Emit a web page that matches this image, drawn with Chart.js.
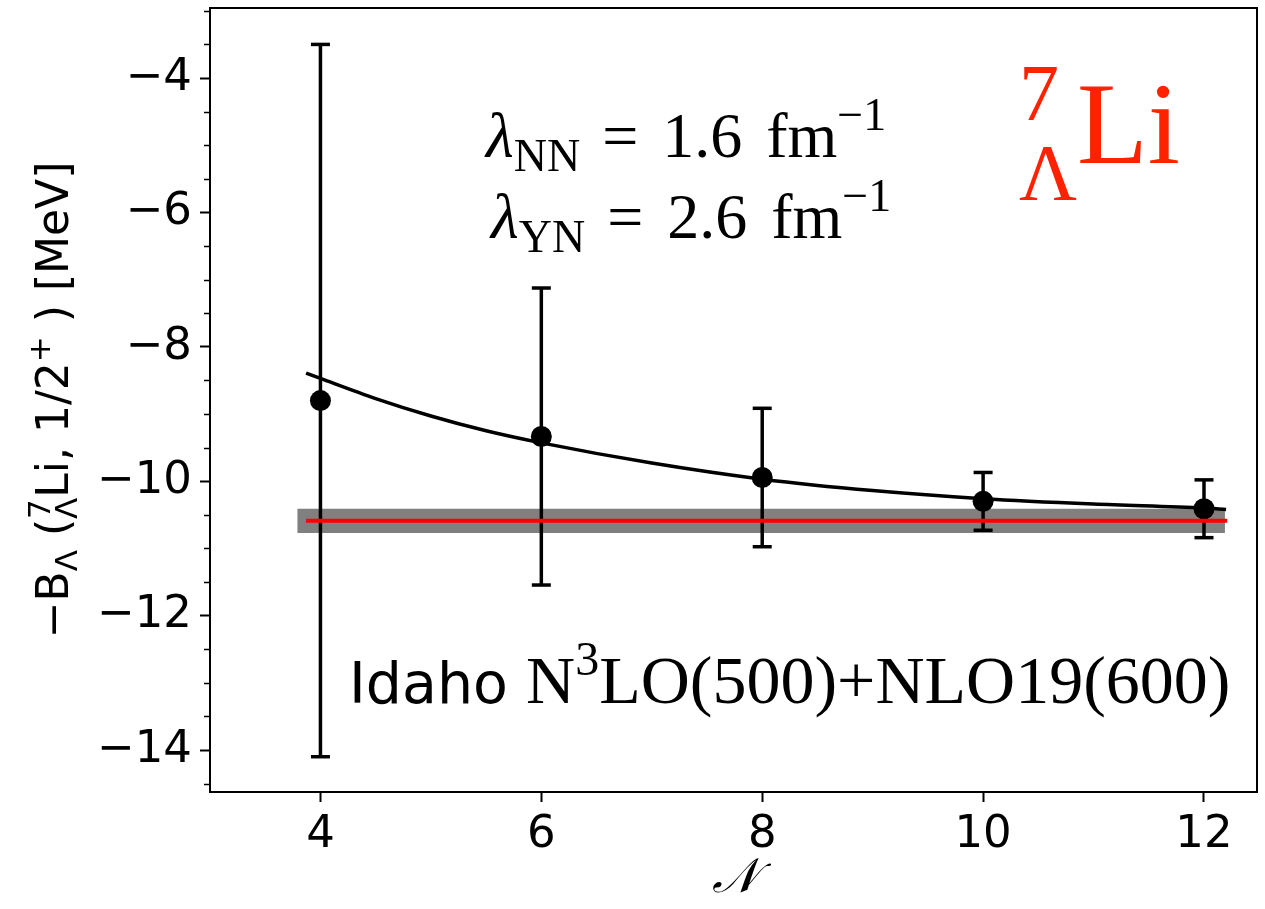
<!DOCTYPE html>
<html>
<head>
<meta charset="utf-8">
<script src="https://cdn.jsdelivr.net/npm/chart.js@4.4.0/dist/chart.umd.min.js"></script>
<style>
  html, body { margin: 0; padding: 0; background: #ffffff; }
</style>
</head>
<body>
<canvas id="grafico" width="1265" height="909"></canvas>
<script>
// pontos NCSM com barras de erro
const nMax = [4, 6, 8, 10, 12];
const energia = [-8.80, -9.335, -9.945, -10.30, -10.41];
const erro = [5.30, 2.21, 1.03, 0.43, 0.43];

// curva de extrapolação
const ajusteN = [3.87, 4, 4.5, 5, 5.5, 6, 7, 8, 9, 10, 11, 12, 12.2];
const ajusteE = [-8.39, -8.47, -8.77, -9.03, -9.25, -9.43, -9.73, -9.97, -10.14, -10.26, -10.34, -10.40, -10.42];

// valor extrapolado e sua incerteza
const energiaRef = -10.59;
const erroRef = 0.18;
const faixaRefN = [3.79, 12.19];
const linhaRefN = [3.87, 12.21];

const xTicks = [4, 6, 8, 10, 12];
const yTicks = [-14, -12, -10, -8, -6, -4];

const PRETO = '#000000';
const SANS = '"DejaVu Sans"';
const SERIF = '"Liberation Serif"';
const menos = v => String(v).replace('-', '\u2212');

function escreve(ctx, x, y, partes) {
  for (const p of partes) {
    if (p.gap) { x += p.gap; continue; }
    ctx.font = p.fonte;
    let w = ctx.measureText(p.texto).width;
    ctx.fillText(p.texto, x, y + (p.dy || 0));
    if (p.sob) {
      ctx.font = p.sob.fonte;
      ctx.fillText(p.sob.texto, x, y + p.sob.dy);
      w = Math.max(w, ctx.measureText(p.sob.texto).width);
    }
    x += w;
  }
  return x;
}

function largura(ctx, partes) {
  let total = 0;
  for (const p of partes) {
    if (p.gap) { total += p.gap; continue; }
    ctx.font = p.fonte;
    let w = ctx.measureText(p.texto).width;
    if (p.sob) {
      ctx.font = p.sob.fonte;
      w = Math.max(w, ctx.measureText(p.sob.texto).width);
    }
    total += w;
  }
  return total;
}

const moldura = {
  id: 'moldura',
  afterDraw(chart) {
    const { ctx, chartArea: a, scales: { y } } = chart;
    ctx.save();
    ctx.strokeStyle = PRETO;
    ctx.lineWidth = 2;
    ctx.strokeRect(a.left, a.top, a.right - a.left, a.bottom - a.top);

    // ticks menores no eixo y
    ctx.lineWidth = 1.5;
    for (let v = Math.ceil(y.min * 2) / 2; v <= y.max; v += 0.5) {
      if (yTicks.includes(v)) continue;
      const py = Math.round(y.getPixelForValue(v)) + 0.5;
      ctx.beginPath();
      ctx.moveTo(a.left - 6, py);
      ctx.lineTo(a.left, py);
      ctx.stroke();
    }
    ctx.restore();
  }
};

const textos = {
  id: 'textos',
  afterDraw(chart) {
    const { ctx, chartArea: a } = chart;
    ctx.save();
    ctx.fillStyle = PRETO;
    ctx.textBaseline = 'alphabetic';
    ctx.textAlign = 'left';

    // título do eixo y (girado)
    const fy = `44px ${SANS}`, fyp = `31px ${SANS}`;
    const tituloY = [
      { texto: '\u2212B', fonte: fy },
      { texto: '\u039B', fonte: fyp, dy: 9 },
      { texto: ' (', fonte: fy },
      { texto: '7', fonte: fyp, dy: -18, sob: { texto: '\u039B', fonte: fyp, dy: 9 } },
      { texto: 'Li, 1/2', fonte: fy },
      { texto: '+', fonte: fyp, dy: -18 },
      { texto: ' ) [MeV]', fonte: fy }
    ];
    ctx.save();
    ctx.translate(68, (a.top + a.bottom) / 2);
    ctx.rotate(-Math.PI / 2);
    escreve(ctx, -largura(ctx, tituloY) / 2, 0, tituloY);
    ctx.restore();

    // título do eixo x
    ctx.save();
    ctx.font = `italic 48px "DejaVu Serif"`;
    ctx.textAlign = 'center';
    ctx.textBaseline = 'middle';
    ctx.fillText('\uD835\uDCA9', (a.left + a.right) / 2 + 1, 880);
    ctx.restore();

    // parâmetros da SRG
    const fl = `64px ${SERIF}`, flp = `46px ${SERIF}`, fli = `italic 64px ${SERIF}`;
    escreve(ctx, a.left + 276, a.top + 149, [
      { texto: '\u03BB', fonte: fli },
      { texto: 'NN', fonte: flp, dy: 14 },
      { gap: 22 },
      { texto: '=', fonte: fl },
      { gap: 24 },
      { texto: '1.6', fonte: fl },
      { gap: 24 },
      { texto: 'fm', fonte: fl },
      { texto: '\u22121', fonte: flp, dy: -27 }
    ]);
    escreve(ctx, a.left + 281, a.top + 230, [
      { texto: '\u03BB', fonte: fli },
      { texto: 'YN', fonte: flp, dy: 14 },
      { gap: 22 },
      { texto: '=', fonte: fl },
      { gap: 24 },
      { texto: '2.6', fonte: fl },
      { gap: 24 },
      { texto: 'fm', fonte: fl },
      { texto: '\u22121', fonte: flp, dy: -27 }
    ]);

    // hipernúcleo
    ctx.fillStyle = '#ff2200';
    escreve(ctx, a.left + 809, a.top + 155, [
      { texto: '7', fonte: `80px ${SERIF}`, dy: -43, sob: { texto: '\u039B', fonte: `80px ${SERIF}`, dy: 37 } },
      { texto: 'Li', fonte: `116px ${SERIF}` }
    ]);

    // interação
    ctx.fillStyle = PRETO;
    escreve(ctx, a.left + 139, a.top + 695, [
      { texto: 'Idaho ', fonte: `57px ${SANS}` },
      { texto: 'N', fonte: `68px ${SERIF}` },
      { texto: '3', fonte: `48px ${SERIF}`, dy: -28 },
      { texto: 'LO(500)+NLO19(600)', fonte: `68px ${SERIF}` }
    ]);
    ctx.restore();
  }
};

const barras = nMax.map((n, i) => ({
  data: [{ x: n, y: energia[i] - erro[i] }, { x: n, y: energia[i] + erro[i] }],
  showLine: true,
  borderColor: PRETO,
  borderWidth: 3.5,
  pointRadius: 0,
  order: 4
}));

const pontas = [];
nMax.forEach((n, i) => {
  pontas.push({ x: n, y: energia[i] - erro[i] });
  pontas.push({ x: n, y: energia[i] + erro[i] });
});

const ctx = document.getElementById('grafico').getContext('2d');
const grafico = new Chart(ctx, {
  type: 'scatter',
  data: {
    datasets: [
      {
        data: linhaRefN.map(n => ({ x: n, y: energiaRef })),
        showLine: true,
        borderColor: '#ff0000',
        borderWidth: 4,
        pointRadius: 0,
        order: 0
      },
      {
        data: ajusteN.map((n, i) => ({ x: n, y: ajusteE[i] })),
        showLine: true,
        borderColor: PRETO,
        borderWidth: 3.5,
        pointRadius: 0,
        cubicInterpolationMode: 'monotone',
        order: 1
      },
      {
        data: nMax.map((n, i) => ({ x: n, y: energia[i] })),
        backgroundColor: PRETO,
        borderWidth: 0,
        pointRadius: 10.5,
        order: 2
      },
      {
        data: pontas,
        pointStyle: 'line',
        pointRadius: 9.5,
        borderColor: PRETO,
        borderWidth: 3.5,
        order: 3
      },
      ...barras,
      {
        data: faixaRefN.map(n => ({ x: n, y: energiaRef + erroRef })),
        showLine: true,
        borderWidth: 0,
        pointRadius: 0,
        backgroundColor: '#808080',
        fill: '+1',
        order: 5
      },
      {
        data: faixaRefN.map(n => ({ x: n, y: energiaRef - erroRef })),
        showLine: true,
        borderWidth: 0,
        pointRadius: 0,
        order: 6
      }
    ]
  },
  options: {
    responsive: false,
    animation: false,
    layout: { autoPadding: false, padding: { top: 8, right: 8, left: 0, bottom: 0 } },
    plugins: {
      legend: { display: false },
      tooltip: { enabled: false }
    },
    scales: {
      x: {
        type: 'linear',
        min: 3,
        max: 12.48,
        afterBuildTicks: eixo => { eixo.ticks = xTicks.map(v => ({ value: v })); },
        afterFit: eixo => {
          eixo.height = 117;
          eixo.paddingLeft = 0;
          eixo.paddingRight = 0;
        },
        grid: { drawOnChartArea: false, tickLength: 10, tickWidth: 2, tickColor: PRETO },
        border: { display: false },
        ticks: {
          color: PRETO,
          font: { family: 'DejaVu Sans', size: 45 },
          padding: 6,
          maxRotation: 0,
          autoSkip: false,
          callback: v => menos(v)
        }
      },
      y: {
        type: 'linear',
        min: -14.625,
        max: -2.958,
        afterBuildTicks: eixo => { eixo.ticks = yTicks.map(v => ({ value: v })); },
        afterFit: eixo => {
          eixo.width = 210;
          eixo.paddingTop = 0;
          eixo.paddingBottom = 0;
        },
        grid: { drawOnChartArea: false, tickLength: 10, tickWidth: 2, tickColor: PRETO },
        border: { display: false },
        ticks: {
          color: PRETO,
          font: { family: 'DejaVu Sans', size: 45 },
          padding: 8,
          autoSkip: false,
          callback: v => menos(v)
        }
      }
    }
  },
  plugins: [moldura, textos]
});
</script>
</body>
</html>
